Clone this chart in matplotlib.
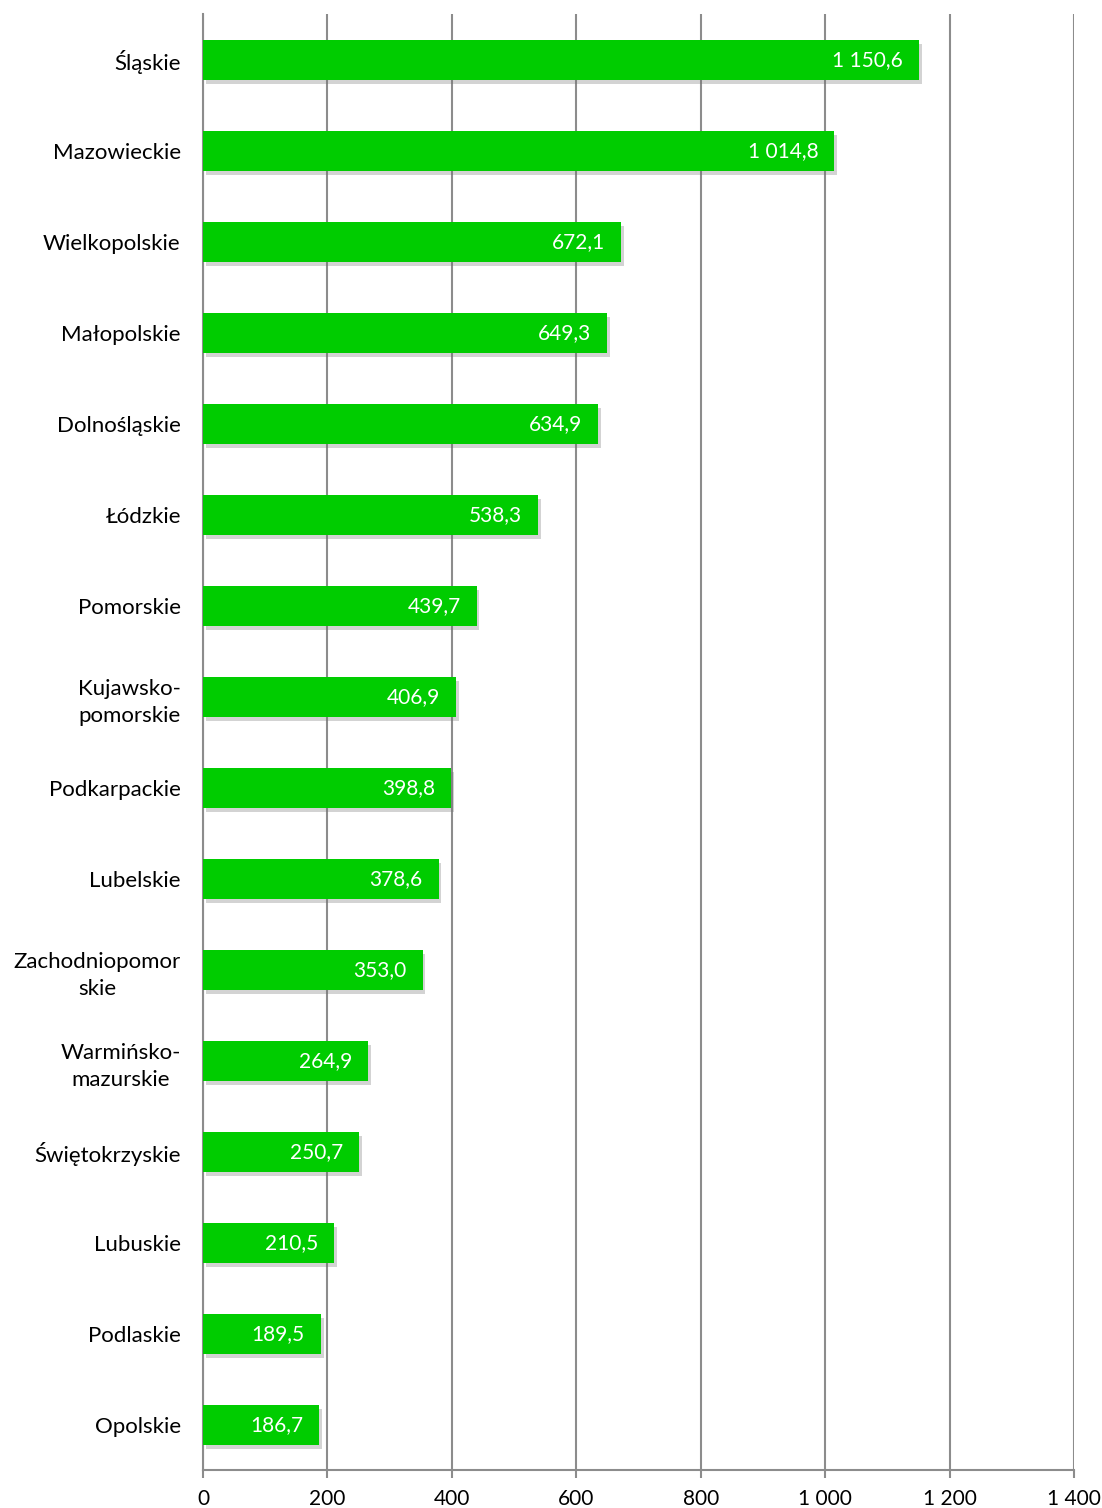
import matplotlib
matplotlib.use("Agg")
import matplotlib.pyplot as plt
import matplotlib.patheffects as pe
from matplotlib.ticker import FuncFormatter

# data (top to bottom)
regions = ["Śląskie", "Mazowieckie", "Wielkopolskie", "Małopolskie", "Dolnośląskie",
           "Łódzkie", "Pomorskie", "Kujawsko-\npomorskie", "Podkarpackie", "Lubelskie",
           "Zachodniopomor\nskie", "Warmińsko-\nmazurskie", "Świętokrzyskie", "Lubuskie",
           "Podlaskie", "Opolskie"]
values = [1150.6, 1014.8, 672.1, 649.3, 634.9, 538.3, 439.7, 406.9, 398.8, 378.6,
          353.0, 264.9, 250.7, 210.5, 189.5, 186.7]
xticks = [0, 200, 400, 600, 800, 1000, 1200, 1400]

plt.rcParams["font.family"] = ["Lato", "DejaVu Sans"]
GREEN = "#00cc00"
GRID = "#8c8c8c"


def pl_num(v, decimals=1):
    s = f"{v:,.{decimals}f}"
    return s.replace(",", " ").replace(".", ",")


fig = plt.figure(figsize=(11.02, 15.08), dpi=100)
ax = fig.add_axes([0.1842, 0.0249, 0.7904, 0.9655])

ypos = list(range(len(regions)))
shadow = [pe.SimplePatchShadow(offset=(2, -3), shadow_rgbFace="#707070", alpha=0.3), pe.Normal()]
bars = ax.barh(ypos, values, height=0.44, color=GREEN, zorder=3)
for b in bars:
    b.set_path_effects(shadow)

for y, v in zip(ypos, values):
    ax.annotate(pl_num(v), (v, y), xytext=(-16, 0), textcoords="offset pixels",
                ha="right", va="center", color="white", fontsize=15, zorder=4)

ax.set_ylim(len(regions) - 0.5, -0.5)
ax.set_xlim(0, 1400)
ax.set_xticks(xticks)
ax.xaxis.set_major_formatter(FuncFormatter(lambda v, p: pl_num(v, 0)))
ax.set_yticks(ypos)
ax.set_yticklabels(regions, multialignment="center", linespacing=1.45)
ax.tick_params(axis="y", length=0, pad=16, labelsize=16)
ax.tick_params(axis="x", length=6, width=1.5, color=GRID, pad=7, labelsize=15)

ax.grid(axis="x", color=GRID, linewidth=1.5, zorder=0)
ax.set_axisbelow(True)
for side in ["top", "right"]:
    ax.spines[side].set_visible(False)
for side in ["left", "bottom"]:
    ax.spines[side].set_color(GRID)
    ax.spines[side].set_linewidth(1.5)

fig.savefig("out.png", dpi=100)
